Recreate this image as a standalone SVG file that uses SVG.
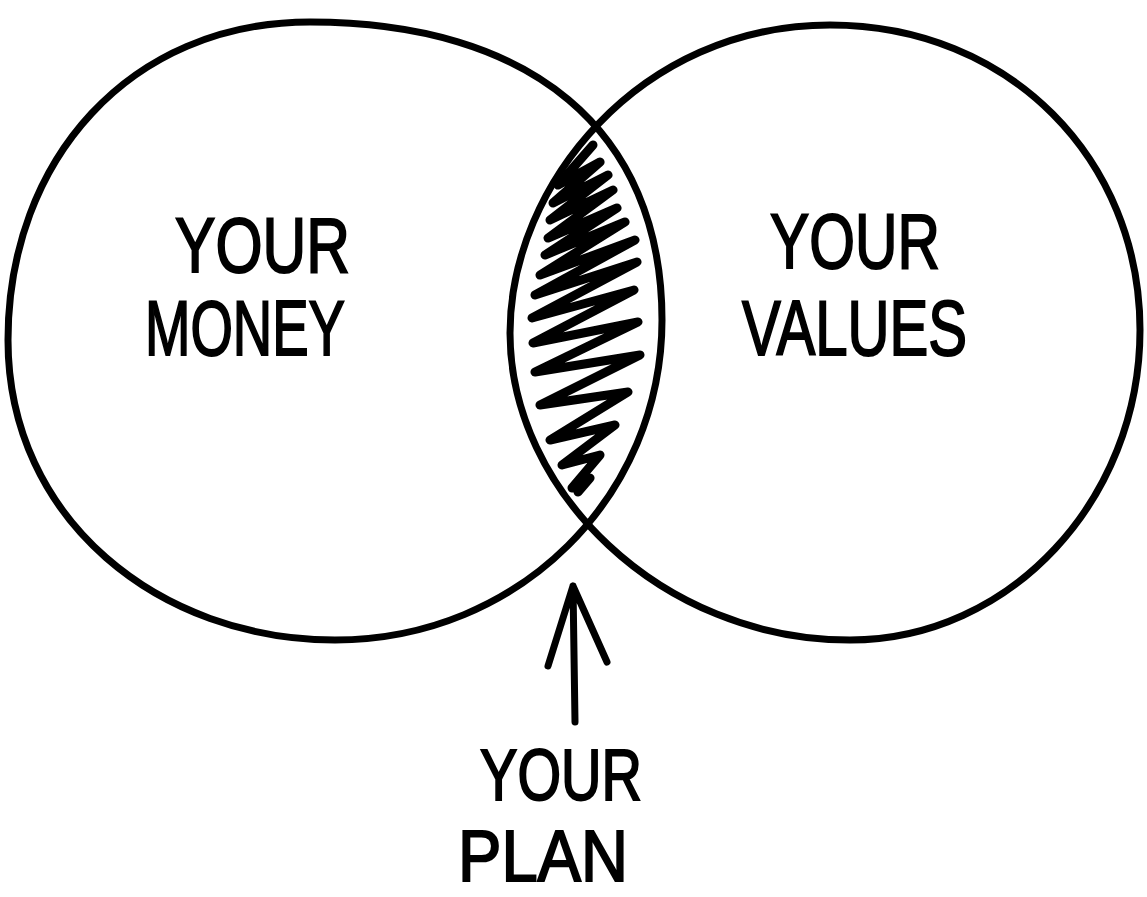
<svg xmlns="http://www.w3.org/2000/svg" width="1147" height="897" viewBox="0 0 1147 897">
<style>
.ring{fill:none;stroke:#000;stroke-width:7;stroke-linejoin:round;stroke-linecap:round}
.ink{fill:none;stroke:#000;stroke-linecap:round;stroke-linejoin:round}
.lbl{font-family:"Liberation Sans","DejaVu Sans",sans-serif;font-size:78px;fill:#000;stroke:#000;stroke-width:2}
.sm{font-size:72px}
</style>
<rect width="1147" height="897" fill="#fff"/>
<g id="money">
<path class="ring" d="M310,22 C530,22 662,130 662,320 C662,495 520,640 335,640 C160,640 8,520 8,340 C8,160 130,22 310,22 Z"/>
<text class="lbl" x="175" y="272" textLength="175" lengthAdjust="spacingAndGlyphs">YOUR</text>
<text class="lbl" x="145" y="355" textLength="200" lengthAdjust="spacingAndGlyphs">MONEY</text>
</g>
<g id="values">
<path class="ring" d="M830,25 C1010,25 1140,160 1140,330 C1140,500 1010,640 850,640 C660,640 510,490 510,333 C510,185 640,25 830,25 Z"/>
<text class="lbl" x="770" y="268" textLength="170" lengthAdjust="spacingAndGlyphs">YOUR</text>
<text class="lbl" x="742" y="355" textLength="225" lengthAdjust="spacingAndGlyphs">VALUES</text>
</g>
<g id="overlap">
<path class="ink" stroke-width="9" d="M593,145 L558,185 L600,162 L553,203 L608,175 L550,220 L613,190 L548,238 L617,208 L545,255 L625,222 L540,275 L635,240 L535,295 L637,262 L532,318 L634,290 L533,343 L638,322 L535,372 L640,355 L540,405 L628,392 L550,440 L615,425 L562,465 L600,455 L572,488 L590,478 L578,492"/>
</g>
<g id="plan">
<text class="lbl sm" x="480" y="800" textLength="162" lengthAdjust="spacingAndGlyphs">YOUR</text>
<text class="lbl sm" x="458" y="881" textLength="170" lengthAdjust="spacingAndGlyphs">PLAN</text>
</g>
<g id="connectors">
<path class="ink" stroke-width="7" d="M575,722 L573,586 M548,666 L573,586 L607,662"/>
</g>
</svg>
